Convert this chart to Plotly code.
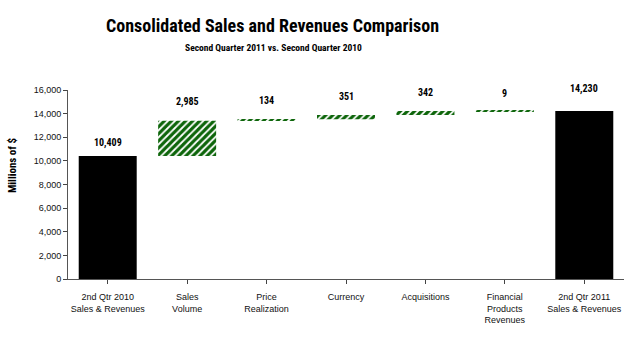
import plotly.graph_objects as go

categories = ["2nd Qtr 2010<br>Sales & Revenues", "Sales<br>Volume", "Price<br>Realization",
              "Currency", "Acquisitions", "Financial<br>Products<br>Revenues",
              "2nd Qtr 2011<br>Sales & Revenues"]
start_total = 10409
changes = [2985, 134, 351, 342, 9]
end_total = 14230
labels = ["10,409", "2,985", "134", "351", "342", "9", "14,230"]
y_ticks = [0, 2000, 4000, 6000, 8000, 10000, 12000, 14000, 16000]

bases = []
running = start_total
for c in changes:
    bases.append(running)
    running += c

cat_idx = list(range(len(categories)))
NARROW = "Roboto Condensed, Liberation Sans"
fig = go.Figure()

fig.add_trace(go.Bar(
    x=[cat_idx[0], cat_idx[-1]], y=[start_total, end_total],
    marker=dict(color="black", line=dict(width=0)), width=0.73, showlegend=False))

fig.add_trace(go.Bar(
    x=cat_idx[1:-1], y=changes, base=bases,
    marker=dict(color="white", line=dict(width=0),
                pattern=dict(shape="/", fgcolor="#0d650a", fgopacity=1, bgcolor="white",
                             size=5, solidity=0.65)),
    width=0.73, showlegend=False))

tops = [start_total] + [b + c for b, c in zip(bases, changes)] + [end_total]
shifts = [13, 19, 19, 19, 19, 17, 22]
for i, (t, lab, s) in enumerate(zip(tops, labels, shifts)):
    fig.add_annotation(x=i, y=t, text="<b>" + lab + "</b>", showarrow=False, yanchor="middle",
                       yshift=s, font=dict(family=NARROW, size=10, color="black"))

fig.update_layout(
    width=632, height=337,
    margin=dict(l=68, r=8, t=90, b=58),
    plot_bgcolor="white", paper_bgcolor="white",
    font=dict(family="Liberation Sans, Arial", size=9, color="#111"),
    yaxis=dict(range=[0, 16000], tickvals=y_ticks, tickformat=",", ticks="outside", ticklen=4,
               showline=True, linecolor="#555", linewidth=1, showgrid=False, zeroline=False,
               tickfont=dict(size=9)),
    xaxis=dict(tickmode="array", tickvals=cat_idx, ticktext=categories, range=[-0.5, len(categories) - 0.5],
               ticks="outside", ticklen=4, showline=True, linecolor="#555", linewidth=1,
               ticklabelstandoff=5,
               showgrid=False, zeroline=False, tickfont=dict(size=9)),
)
fig.add_annotation(xref="paper", yref="paper", x=-0.10, y=0.6, text="<b>Millions of $</b>", textangle=-90,
                   showarrow=False, xanchor="center", yanchor="middle",
                   font=dict(family=NARROW, size=11, color="black"))
fig.add_annotation(xref="paper", yref="paper", x=0.367, y=1.0, yshift=65, yanchor="middle",
                   text="<b>Consolidated Sales and Revenues Comparison</b>",
                   showarrow=False, font=dict(family=NARROW, size=18, color="black"))
fig.add_annotation(xref="paper", yref="paper", x=0.37, y=1.0, yshift=43, yanchor="middle",
                   text="<b>Second Quarter 2011 vs. Second Quarter 2010</b>",
                   showarrow=False, font=dict(family=NARROW, size=9.5, color="black"))

fig.write_html("out.html")
